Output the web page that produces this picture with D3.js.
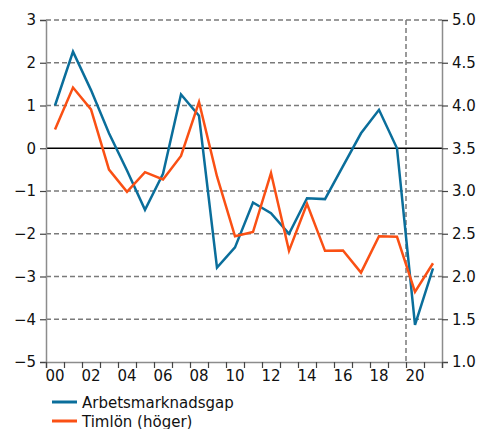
<!DOCTYPE html>
<html>
<head>
<meta charset="utf-8">
<script src="https://cdn.jsdelivr.net/npm/d3@7"></script>
<style>
body { margin: 0; background: #fff; }
svg { display: block; font-family: "DejaVu Sans", Verdana, sans-serif; }
</style>
</head>
<body>
<script>
var years = [2000, 2001, 2002, 2003, 2004, 2005, 2006, 2007, 2008, 2009, 2010,
  2011, 2012, 2013, 2014, 2015, 2016, 2017, 2018, 2019, 2020, 2021];
var gap = [1.0, 2.26, 1.36, 0.35, -0.52, -1.44, -0.6, 1.26, 0.76, -2.79, -2.32,
  -1.27, -1.52, -2.0, -1.17, -1.19, -0.42, 0.35, 0.9, 0.0, -4.13, -2.81];
var wage = [3.72, 4.21, 3.955, 3.25, 2.99, 3.22, 3.135, 3.41, 4.04, 3.17, 2.47,
  2.52, 3.21, 2.3, 2.85, 2.3, 2.305, 2.045, 2.47, 2.465, 1.82, 2.155];
var leftTicks = [3, 2, 1, 0, -1, -2, -3, -4, -5];
var rightTicks = [5.0, 4.5, 4.0, 3.5, 3.0, 2.5, 2.0, 1.5, 1.0];
var xLabels = ["00", "02", "04", "06", "08", "10", "12", "14", "16", "18", "20"];
var seriesNames = ["Arbetsmarknadsgap", "Timlön (höger)"];
var colors = ["#0a6e9b", "#fa5014"];

var W = 491, H = 429;
var pL = 46, pR = 442, pT = 20, pB = 362;
var fs = 15;

var svg = d3.select("body").append("svg").attr("width", W).attr("height", H);

var x = d3.scaleBand().domain(years).range([pL, pR]).padding(0);
var yL = d3.scaleLinear().domain([-5, 3]).range([pB, pT]);
var yR = d3.scaleLinear().domain([1, 5]).range([pB, pT]);

// grid lines
svg.append("g").selectAll("line")
.data(leftTicks.filter(function(d){ return d != 0 && d != -5; }))
.enter().append("line")
.attr("x1", pL).attr("x2", pR)
.attr("y1", function(d){ return yL(d); })
.attr("y2", function(d){ return yL(d); })
.attr("stroke", "#7a7a7a")
.attr("stroke-width", 1.5)
.attr("stroke-dasharray", "5,3");

// vertical dashed marker between 2019 and 2020
svg.append("line")
.attr("x1", x(2020)).attr("x2", x(2020))
.attr("y1", pT).attr("y2", pB)
.attr("stroke", "#7a7a7a")
.attr("stroke-width", 1.5)
.attr("stroke-dasharray", "5,3");

// zero line
svg.append("line")
.attr("x1", pL).attr("x2", pR)
.attr("y1", yL(0)).attr("y2", yL(0))
.attr("stroke", "#000")
.attr("stroke-width", 1.3);

// left axis
var axL = svg.append("g").attr("transform", "translate(" + pL + ",0)")
.call(d3.axisLeft(yL).tickValues(leftTicks).tickSize(6).tickPadding(4).tickFormat(d3.format("d")));
// right axis
var axR = svg.append("g").attr("transform", "translate(" + pR + ",0)")
.call(d3.axisRight(yR).tickValues(rightTicks).tickSize(6).tickPadding(4).tickFormat(d3.format(".1f")));
// bottom axis: ticks at band edges
var edges = years.map(function(d){ return x(d); }).concat([pR]);
var axB = svg.append("g").attr("transform", "translate(0," + pB + ")")
.call(d3.axisBottom(d3.scaleLinear().domain([pL, pR]).range([pL, pR]))
  .tickValues(edges).tickSize(6).tickFormat(""));

[axL, axR, axB].forEach(function(a){
  a.select(".domain").attr("stroke", "#8c8c8c").attr("stroke-width", 1.5);
  a.selectAll(".tick line").attr("stroke", "#444").attr("stroke-width", 1.2);
  a.selectAll("text").attr("font-size", fs).attr("fill", "#111")
   .attr("font-family", "DejaVu Sans, Verdana, sans-serif");
});

// x labels
svg.append("g").selectAll("text")
.data(xLabels)
.enter().append("text")
.attr("x", function(d){ return x(2000 + (+d)) + x.bandwidth() / 2; })
.attr("y", 381)
.attr("text-anchor", "middle")
.attr("font-size", fs)
.attr("fill", "#111")
.text(function(d){ return d; });

// lines
var lineL = d3.line()
.x(function(d, i){ return x(years[i]) + x.bandwidth() / 2; })
.y(function(d){ return yL(d); });
var lineR = d3.line()
.x(function(d, i){ return x(years[i]) + x.bandwidth() / 2; })
.y(function(d){ return yR(d); });

svg.append("path").datum(gap)
.attr("d", lineL)
.attr("fill", "none")
.attr("stroke", colors[0])
.attr("stroke-width", 2.5);

svg.append("path").datum(wage)
.attr("d", lineR)
.attr("fill", "none")
.attr("stroke", colors[1])
.attr("stroke-width", 2.5);

// legend
var leg = svg.append("g").selectAll("g")
.data(seriesNames)
.enter().append("g")
.attr("transform", function(d, i){ return "translate(52," + (402 + i * 19) + ")"; });
leg.append("line")
.attr("x1", 0).attr("x2", 25)
.attr("stroke", function(d, i){ return colors[i]; })
.attr("stroke-width", 3);
leg.append("text")
.attr("x", 30).attr("y", 5.5)
.attr("font-size", fs)
.attr("fill", "#111")
.text(function(d){ return d; });
</script>
</body>
</html>
